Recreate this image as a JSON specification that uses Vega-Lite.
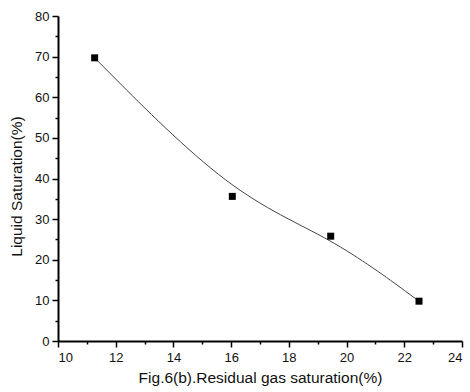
{
  "$schema": "https://vega.github.io/schema/vega-lite/v6.json",
  "autosize": "none",
  "padding": {"left": 58, "top": 16, "right": 8, "bottom": 51},
  "width": 404,
  "height": 325,
  "background": "white",
  "config": {
    "view": {"stroke": null},
    "axis": {"grid": false, "domainColor": "black", "tickColor": "black", "labelColor": "#111111", "titleColor": "#111111", "labelFont": "Liberation Sans", "titleFont": "Liberation Sans", "labelFontSize": 13, "titleFontSize": 15.5, "titleFontWeight": "normal", "domainWidth": 2, "tickWidth": 1.5}
  },
  "data": {"values": [
    {"gas": 11.27, "liquid": 69.7},
    {"gas": 16.04, "liquid": 35.6},
    {"gas": 19.45, "liquid": 25.8},
    {"gas": 22.51, "liquid": 9.8}
  ]},
  "resolve": {"axis": {"x": "independent", "y": "independent"}},
  "layer": [
    {
      "mark": {"type": "line", "interpolate": "basis", "color": "#444444", "strokeWidth": 1},
      "encoding": {
        "x": {"field": "gas", "type": "quantitative", "scale": {"domain": [10, 24], "nice": false},
          "axis": {"orient": "bottom", "values": [11, 13, 15, 17, 19, 21, 23], "labels": false, "domain": false, "tickSize": 3, "title": null}},
        "y": {"field": "liquid", "type": "quantitative", "scale": {"domain": [0, 80], "nice": false},
          "axis": {"orient": "left", "values": [5, 15, 25, 35, 45, 55, 65, 75], "labels": false, "domain": false, "tickSize": 3, "title": null}}
      }
    },
    {
      "mark": {"type": "square", "size": 49, "color": "black", "filled": true, "opacity": 1},
      "encoding": {
        "x": {"field": "gas", "type": "quantitative",
          "axis": {"orient": "bottom", "values": [10, 12, 14, 16, 18, 20, 22, 24], "tickSize": 6, "labelPadding": 4, "title": "Fig.6(b).Residual gas saturation(%)", "titlePadding": 6}},
        "y": {"field": "liquid", "type": "quantitative",
          "axis": {"orient": "left", "values": [0, 10, 20, 30, 40, 50, 60, 70, 80], "tickSize": 6, "labelPadding": 3, "title": "Liquid Saturation(%)", "titlePadding": 10, "titleY": 170}}
      }
    }
  ]
}
